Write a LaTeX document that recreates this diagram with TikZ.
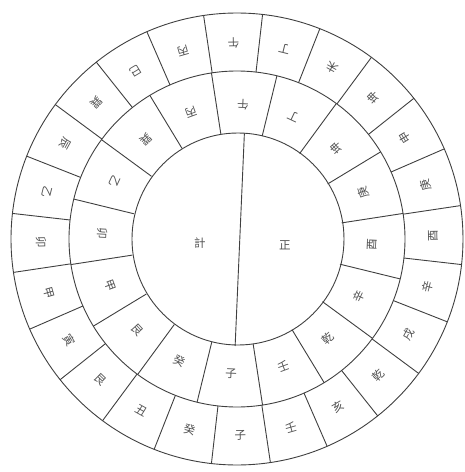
\documentclass[tikz,border=0pt]{standalone}
\usepackage{fontspec}
\newfontfamily\cjk{Noto Sans CJK SC}
\begin{document}
\begin{tikzpicture}[x=1pt,y=1pt,
  ring/.style={draw=black!75, line width=0.9pt},
  lab/.style={font=\cjk\fontsize{11.5}{11.5}\selectfont, text=black!68, inner sep=0pt}]
\useasboundingbox (-237,-233) rectangle (227,239);
\fill[white] (-237,-233) rectangle (227,239);
% circles
\draw[ring] (0,0) circle (226);
\draw[ring] (0,0) circle (168);
\draw[ring] (1,0) circle (106);
% outer ring dividers (24)
\foreach \i in {0,...,23}{
  \pgfmathsetmacro{\t}{90-(\i*15+7.5-1)}
  \draw[ring] (\t:168) -- (\t:226);
}
% middle ring dividers (16)
\foreach \i in {0,...,15}{
  \pgfmathsetmacro{\t}{90-(\i*22.5+11.25+2.5)}
  \draw[ring] (\t:106) -- (\t:168);
}
% diameter
\draw[ring] (86:106) -- (269:107);
% outer labels
\foreach \c [count=\i from 0] in {午,丁,未,坤,申,庚,酉,辛,戌,乾,亥,壬,子,癸,丑,艮,寅,甲,卯,乙,辰,巽,巳,丙}{
  \pgfmathsetmacro{\th}{\i*15-1}
  \node[lab, rotate={180-\th}] (o\i) at ({90-\th}:196) {\c};
}
% middle labels
\foreach \c [count=\i from 0] in {午,丁,坤,庚,酉,辛,乾,壬,子,癸,艮,甲,卯,乙,巽,丙}{
  \pgfmathsetmacro{\th}{\i*22.5+2.5}
  \node[lab, rotate={180-\th}] (m\i) at ({90-\th}:135) {\c};
}
% centre
\node[lab] (left) at (-37,-4) {計};
\node[lab] (right) at (48,-6) {正};
\end{tikzpicture}
\end{document}
